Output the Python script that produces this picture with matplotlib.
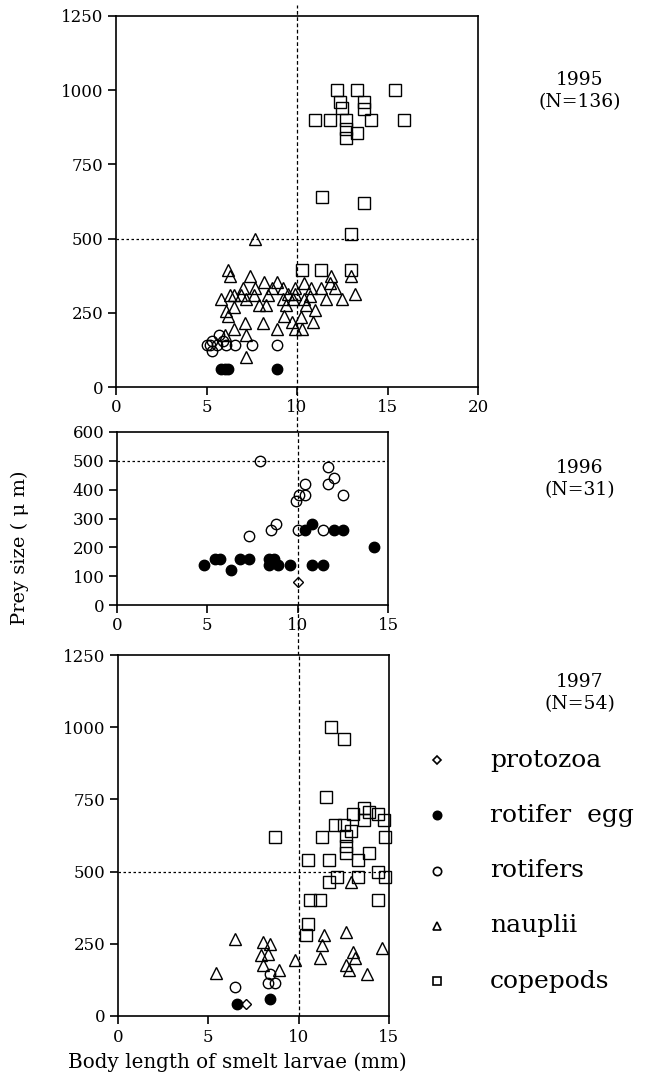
import numpy as np
import matplotlib
matplotlib.use("Agg")
import matplotlib.pyplot as plt

plt.rcParams['font.family'] = ['DejaVu Serif']

# ---- 1995 ----
cope95_x = [12.2, 13.3, 15.4, 12.4, 12.5, 13.7, 13.7, 11.0, 11.8, 12.7, 14.1, 15.9,
            12.7, 13.3, 12.7, 11.4, 13.7, 13.0, 10.3, 11.3, 13.0]
cope95_y = [1000, 1000, 1000, 960, 940, 960, 935, 900, 900, 900, 900, 900,
            870, 855, 840, 640, 620, 515, 395, 395, 395]
naup95_x = [7.7, 6.2, 6.3, 7.4, 8.2, 8.9, 7.0, 7.7, 8.6, 9.2, 9.9, 10.4, 10.8, 11.3,
            11.9, 11.8, 12.1, 13.0, 13.2, 12.5, 11.6, 5.8, 6.3, 6.5, 6.9, 7.2, 7.6,
            7.9, 8.3, 8.4, 9.2, 9.4, 9.5, 9.8, 9.9, 10.4, 10.5, 10.7, 11.0, 10.9,
            10.2, 9.9, 10.3, 9.7, 9.3, 8.9, 8.1, 7.1, 6.5, 7.2, 7.2, 6.2, 6.1, 6.5, 6.0]
naup95_y = [500, 395, 375, 375, 355, 355, 335, 335, 335, 335, 335, 350, 335, 335,
            375, 350, 335, 375, 315, 295, 295, 295, 310, 310, 310, 295, 310,
            275, 275, 310, 295, 275, 315, 295, 315, 295, 275, 305, 260, 220,
            235, 195, 195, 220, 240, 195, 215, 215, 195, 175, 100, 240, 255, 270, 175]
rot95_x = [5.0, 5.3, 5.3, 5.7, 5.6, 5.9, 6.1, 6.6, 7.5, 8.9, 5.2]
rot95_y = [140, 155, 120, 175, 140, 155, 140, 140, 140, 140, 140]
egg95_x = [5.8, 6.0, 6.2, 8.9]
egg95_y = [60, 60, 60, 60]

# ---- 1996 ----
rot96_x = [7.9, 11.7, 12.0, 11.7, 10.4, 10.4, 10.1, 9.9, 12.5, 8.8, 8.5, 7.3, 10.0, 11.4]
rot96_y = [500, 480, 440, 420, 420, 380, 380, 360, 380, 280, 260, 240, 260, 260]
egg96_x = [4.8, 5.4, 5.7, 6.3, 6.8, 7.3, 8.4, 8.7, 8.4, 8.9, 9.6, 10.8, 11.4,
           10.4, 10.8, 12.0, 12.5, 14.2]
egg96_y = [140, 160, 160, 120, 160, 160, 160, 160, 140, 140, 140, 140, 140,
           260, 280, 260, 260, 200]
proto96_x = [10.0]
proto96_y = [80]

# ---- 1997 ----
cope97_x = [11.8, 12.5, 11.5, 13.6, 13.9, 13.0, 14.4, 14.7, 13.6, 12.0, 12.5, 12.9,
            8.7, 11.3, 14.8, 12.6, 12.6, 12.6, 13.9, 10.5, 11.7, 13.3, 14.4, 14.8,
            12.1, 13.3, 11.7, 14.4, 10.6, 11.2, 10.5, 10.4]
cope97_y = [1000, 960, 760, 720, 705, 700, 700, 680, 680, 660, 660, 640,
            620, 620, 620, 625, 590, 565, 565, 540, 540, 540, 500, 480,
            480, 480, 465, 400, 400, 400, 320, 280]
naup97_x = [12.9, 6.5, 5.4, 8.0, 8.4, 7.9, 8.3, 8.0, 8.9, 9.8, 11.4, 11.3, 11.2,
            12.6, 13.0, 13.1, 12.6, 12.8, 13.8, 14.6]
naup97_y = [465, 265, 150, 255, 250, 210, 215, 175, 160, 195, 280, 245, 200,
            290, 220, 200, 175, 160, 145, 235]
rot97_x = [6.5, 8.4, 8.3, 8.7]
rot97_y = [100, 145, 115, 115]
egg97_x = [6.6, 8.4]
egg97_y = [40, 60]
proto97_x = [7.1]
proto97_y = [40]

legend_labels = ['protozoa', 'rotifer  egg', 'rotifers', 'nauplii', 'copepods']

W, H = 653, 1081
fig = plt.figure(figsize=(W / 100, H / 100), dpi=100)

def box(l, r, t, b):
    return [l / W, 1 - b / H, (r - l) / W, (b - t) / H]

ax1 = fig.add_axes(box(116, 478, 16, 387))
ax2 = fig.add_axes(box(117, 388, 432, 605))
ax3 = fig.add_axes(box(118, 389, 655, 1016))

def mk(ax, x, y, marker, ms, filled=False):
    ax.plot(x, y, linestyle='none', marker=marker, markersize=ms,
            markerfacecolor='black' if filled else 'none',
            markeredgecolor='black', markeredgewidth=1.0, clip_on=False)

def style(ax, xmax, ymax, yticks):
    ax.set_xlim(0, xmax)
    ax.set_ylim(0, ymax)
    ax.set_xticks(np.arange(0, xmax + 1, 5))
    ax.set_yticks(yticks)
    for s in ax.spines.values():
        s.set_linewidth(1.2)
    ax.tick_params(direction='out', length=6, width=1.2, labelsize=12,
                   pad=3, top=False, right=False)
    ax.axhline(500, color='black', lw=0.9, linestyle=(0, (2, 2)))

style(ax1, 20, 1250, [0, 250, 500, 750, 1000, 1250])
style(ax2, 15, 600, [0, 100, 200, 300, 400, 500, 600])
style(ax3, 15, 1250, [0, 250, 500, 750, 1000, 1250])

# vertical reference line at 10 mm, running through all three panels
ax1.axvline(10, ymin=-0.123, ymax=1.03, color='black', lw=0.9,
            linestyle=(0, (3, 2)), clip_on=False)
ax2.axvline(10, ymin=-0.29, ymax=1.0, color='black', lw=0.9,
            linestyle=(0, (3, 2)), clip_on=False)
ax3.axvline(10, ymin=0, ymax=1.0, color='black', lw=0.9,
            linestyle=(0, (3, 2)), clip_on=False)

mk(ax1, cope95_x, cope95_y, 's', 8)
mk(ax1, naup95_x, naup95_y, '^', 8.5)
mk(ax1, rot95_x, rot95_y, 'o', 7.5)
mk(ax1, egg95_x, egg95_y, 'o', 7.5, filled=True)

mk(ax2, rot96_x, rot96_y, 'o', 7.5)
mk(ax2, egg96_x, egg96_y, 'o', 7.5, filled=True)
mk(ax2, proto96_x, proto96_y, 'D', 5)

mk(ax3, cope97_x, cope97_y, 's', 8)
mk(ax3, naup97_x, naup97_y, '^', 8.5)
mk(ax3, rot97_x, rot97_y, 'o', 7.5)
mk(ax3, egg97_x, egg97_y, 'o', 7.5, filled=True)
mk(ax3, proto97_x, proto97_y, 'D', 5)

# year labels
fig.text(580 / W, 1 - 91 / H, '1995\n(N=136)', ha='center', va='center', fontsize=13.5, linespacing=1.35)
fig.text(580 / W, 1 - 479 / H, '1996\n(N=31)', ha='center', va='center', fontsize=13.5, linespacing=1.35)
fig.text(580 / W, 1 - 693 / H, '1997\n(N=54)', ha='center', va='center', fontsize=13.5, linespacing=1.35)

# legend
leg_markers = [('D', 4, False), ('o', 6, True), ('o', 6, False), ('^', 6, False), ('s', 6, False)]
for i, (lab, (m, s, f)) in enumerate(zip(legend_labels, leg_markers)):
    yy = 1 - (760 + i * 55.3) / H
    fig.lines.append(plt.Line2D([437 / W], [yy], transform=fig.transFigure,
                                linestyle='none', marker=m, markersize=s,
                                markerfacecolor='black' if f else 'none',
                                markeredgecolor='black', markeredgewidth=1.2))
    fig.text(490 / W, yy, lab, ha='left', va='center', fontsize=18)

fig.text(237 / W, 1 - 1062 / H, 'Body length of smelt larvae (mm)', ha='center', va='center', fontsize=14.3)
fig.text(20 / W, 1 - 548 / H, 'Prey size ( μ m)', ha='center', va='center', rotation=90, fontsize=14)

fig.savefig('out.png', dpi=100)
